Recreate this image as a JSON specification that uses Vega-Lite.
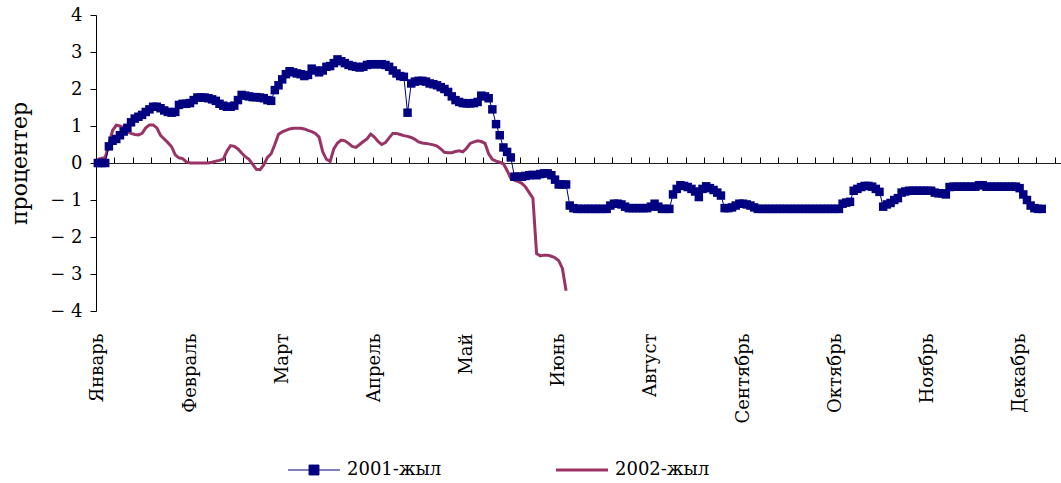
{
  "$schema": "https://vega.github.io/schema/vega-lite/v6.json",
  "width": 966,
  "height": 296,
  "autosize": {"type": "none"},
  "padding": {"left": 96, "top": 15, "right": 0, "bottom": 172},
  "background": "white",
  "config": {
    "view": {"stroke": null},
    "font": "DejaVu Serif",
    "axis": {"labelFont": "DejaVu Serif", "titleFont": "DejaVu Serif", "labelColor": "black", "titleColor": "black", "domainColor": "black", "tickColor": "black", "grid": false}
  },
  "datasets": {
    "y2001": [
      {"idx":0,"value":0},{"idx":1,"value":0},{"idx":2,"value":0},{"idx":3,"value":0.45},{"idx":4,"value":0.6},{"idx":5,"value":0.65},{"idx":6,"value":0.75},{"idx":7,"value":0.85},{"idx":8,"value":0.95},{"idx":9,"value":1.1},
      {"idx":10,"value":1.2},{"idx":11,"value":1.25},{"idx":12,"value":1.3},{"idx":13,"value":1.38},{"idx":14,"value":1.45},{"idx":15,"value":1.52},{"idx":16,"value":1.52},{"idx":17,"value":1.48},{"idx":18,"value":1.42},{"idx":19,"value":1.38},
      {"idx":20,"value":1.36},{"idx":21,"value":1.38},{"idx":22,"value":1.57},{"idx":23,"value":1.6},{"idx":24,"value":1.6},{"idx":25,"value":1.62},{"idx":26,"value":1.7},{"idx":27,"value":1.77},{"idx":28,"value":1.77},{"idx":29,"value":1.77},
      {"idx":30,"value":1.75},{"idx":31,"value":1.72},{"idx":32,"value":1.68},{"idx":33,"value":1.6},{"idx":34,"value":1.55},{"idx":35,"value":1.52},{"idx":36,"value":1.52},{"idx":37,"value":1.55},{"idx":38,"value":1.7},{"idx":39,"value":1.84},
      {"idx":40,"value":1.82},{"idx":41,"value":1.8},{"idx":42,"value":1.78},{"idx":43,"value":1.78},{"idx":44,"value":1.77},{"idx":45,"value":1.75},{"idx":46,"value":1.7},{"idx":47,"value":1.68},{"idx":48,"value":1.97},{"idx":49,"value":2.1},
      {"idx":50,"value":2.26},{"idx":51,"value":2.4},{"idx":52,"value":2.48},{"idx":53,"value":2.45},{"idx":54,"value":2.42},{"idx":55,"value":2.4},{"idx":56,"value":2.35},{"idx":57,"value":2.38},{"idx":58,"value":2.55},{"idx":59,"value":2.5},
      {"idx":60,"value":2.45},{"idx":61,"value":2.5},{"idx":62,"value":2.6},{"idx":63,"value":2.62},{"idx":64,"value":2.7},{"idx":65,"value":2.8},{"idx":66,"value":2.75},{"idx":67,"value":2.7},{"idx":68,"value":2.65},{"idx":69,"value":2.62},
      {"idx":70,"value":2.6},{"idx":71,"value":2.58},{"idx":72,"value":2.6},{"idx":73,"value":2.65},{"idx":74,"value":2.67},{"idx":75,"value":2.67},{"idx":76,"value":2.67},{"idx":77,"value":2.67},{"idx":78,"value":2.65},{"idx":79,"value":2.6},
      {"idx":80,"value":2.5},{"idx":81,"value":2.42},{"idx":82,"value":2.35},{"idx":83,"value":2.33},{"idx":84,"value":1.36},{"idx":85,"value":2.15},{"idx":86,"value":2.2},{"idx":87,"value":2.22},{"idx":88,"value":2.22},{"idx":89,"value":2.2},
      {"idx":90,"value":2.15},{"idx":91,"value":2.13},{"idx":92,"value":2.1},{"idx":93,"value":2.05},{"idx":94,"value":2.0},{"idx":95,"value":1.92},{"idx":96,"value":1.8},{"idx":97,"value":1.7},{"idx":98,"value":1.65},{"idx":99,"value":1.62},
      {"idx":100,"value":1.61},{"idx":101,"value":1.61},{"idx":102,"value":1.62},{"idx":103,"value":1.65},{"idx":104,"value":1.82},{"idx":105,"value":1.8},{"idx":106,"value":1.75},{"idx":107,"value":1.45},{"idx":108,"value":1.05},{"idx":109,"value":0.75},
      {"idx":110,"value":0.42},{"idx":111,"value":0.3},{"idx":112,"value":0.15},{"idx":113,"value":-0.37},{"idx":114,"value":-0.37},{"idx":115,"value":-0.37},{"idx":116,"value":-0.35},{"idx":117,"value":-0.33},{"idx":118,"value":-0.32},{"idx":119,"value":-0.33},
      {"idx":120,"value":-0.3},{"idx":121,"value":-0.28},{"idx":122,"value":-0.28},{"idx":123,"value":-0.33},{"idx":124,"value":-0.45},{"idx":125,"value":-0.58},{"idx":126,"value":-0.58},{"idx":127,"value":-0.58},{"idx":128,"value":-1.15},{"idx":129,"value":-1.22},
      {"idx":130,"value":-1.24},{"idx":131,"value":-1.24},{"idx":132,"value":-1.24},{"idx":133,"value":-1.24},{"idx":134,"value":-1.24},{"idx":135,"value":-1.24},{"idx":136,"value":-1.24},{"idx":137,"value":-1.24},{"idx":138,"value":-1.24},{"idx":139,"value":-1.15},
      {"idx":140,"value":-1.1},{"idx":141,"value":-1.1},{"idx":142,"value":-1.12},{"idx":143,"value":-1.18},{"idx":144,"value":-1.22},{"idx":145,"value":-1.22},{"idx":146,"value":-1.22},{"idx":147,"value":-1.22},{"idx":148,"value":-1.22},{"idx":149,"value":-1.22},
      {"idx":150,"value":-1.18},{"idx":151,"value":-1.1},{"idx":152,"value":-1.18},{"idx":153,"value":-1.24},{"idx":154,"value":-1.24},{"idx":155,"value":-1.24},{"idx":156,"value":-0.85},{"idx":157,"value":-0.7},{"idx":158,"value":-0.6},{"idx":159,"value":-0.62},
      {"idx":160,"value":-0.65},{"idx":161,"value":-0.7},{"idx":162,"value":-0.77},{"idx":163,"value":-0.92},{"idx":164,"value":-0.7},{"idx":165,"value":-0.63},{"idx":166,"value":-0.68},{"idx":167,"value":-0.73},{"idx":168,"value":-0.8},{"idx":169,"value":-0.88},
      {"idx":170,"value":-1.22},{"idx":171,"value":-1.22},{"idx":172,"value":-1.2},{"idx":173,"value":-1.15},{"idx":174,"value":-1.1},{"idx":175,"value":-1.1},{"idx":176,"value":-1.12},{"idx":177,"value":-1.15},{"idx":178,"value":-1.2},{"idx":179,"value":-1.24},
      {"idx":180,"value":-1.24},{"idx":181,"value":-1.24},{"idx":182,"value":-1.24},{"idx":183,"value":-1.24},{"idx":184,"value":-1.24},{"idx":185,"value":-1.24},{"idx":186,"value":-1.24},{"idx":187,"value":-1.24},{"idx":188,"value":-1.24},{"idx":189,"value":-1.24},
      {"idx":190,"value":-1.24},{"idx":191,"value":-1.24},{"idx":192,"value":-1.24},{"idx":193,"value":-1.24},{"idx":194,"value":-1.24},{"idx":195,"value":-1.24},{"idx":196,"value":-1.24},{"idx":197,"value":-1.24},{"idx":198,"value":-1.24},{"idx":199,"value":-1.24},
      {"idx":200,"value":-1.24},{"idx":201,"value":-1.24},{"idx":202,"value":-1.1},{"idx":203,"value":-1.07},{"idx":204,"value":-1.05},{"idx":205,"value":-0.75},{"idx":206,"value":-0.7},{"idx":207,"value":-0.65},{"idx":208,"value":-0.62},{"idx":209,"value":-0.62},
      {"idx":210,"value":-0.64},{"idx":211,"value":-0.7},{"idx":212,"value":-0.78},{"idx":213,"value":-1.18},{"idx":214,"value":-1.12},{"idx":215,"value":-1.08},{"idx":216,"value":-1.0},{"idx":217,"value":-0.95},{"idx":218,"value":-0.8},{"idx":219,"value":-0.77},
      {"idx":220,"value":-0.75},{"idx":221,"value":-0.75},{"idx":222,"value":-0.75},{"idx":223,"value":-0.75},{"idx":224,"value":-0.75},{"idx":225,"value":-0.75},{"idx":226,"value":-0.75},{"idx":227,"value":-0.8},{"idx":228,"value":-0.82},{"idx":229,"value":-0.82},
      {"idx":230,"value":-0.85},{"idx":231,"value":-0.65},{"idx":232,"value":-0.64},{"idx":233,"value":-0.64},{"idx":234,"value":-0.64},{"idx":235,"value":-0.64},{"idx":236,"value":-0.64},{"idx":237,"value":-0.64},{"idx":238,"value":-0.64},{"idx":239,"value":-0.6},
      {"idx":240,"value":-0.6},{"idx":241,"value":-0.64},{"idx":242,"value":-0.64},{"idx":243,"value":-0.64},{"idx":244,"value":-0.64},{"idx":245,"value":-0.64},{"idx":246,"value":-0.64},{"idx":247,"value":-0.64},{"idx":248,"value":-0.64},{"idx":249,"value":-0.64},
      {"idx":250,"value":-0.68},{"idx":251,"value":-0.85},{"idx":252,"value":-1.0},{"idx":253,"value":-1.15},{"idx":254,"value":-1.22},{"idx":255,"value":-1.24},{"idx":256,"value":-1.24}
    ],
    "y2002": [
      {"idx":0,"value":0.1},{"idx":1,"value":0.12},{"idx":2,"value":0.15},{"idx":3,"value":0.5},{"idx":4,"value":0.88},{"idx":5,"value":1.02},{"idx":6,"value":1.0},{"idx":7,"value":0.95},{"idx":8,"value":0.85},{"idx":9,"value":0.8},
      {"idx":10,"value":0.77},{"idx":11,"value":0.76},{"idx":12,"value":0.8},{"idx":13,"value":0.95},{"idx":14,"value":1.03},{"idx":15,"value":1.03},{"idx":16,"value":0.95},{"idx":17,"value":0.75},{"idx":18,"value":0.65},{"idx":19,"value":0.55},
      {"idx":20,"value":0.44},{"idx":21,"value":0.22},{"idx":22,"value":0.14},{"idx":23,"value":0.12},{"idx":24,"value":0.03},{"idx":25,"value":0.0},{"idx":26,"value":0.0},{"idx":27,"value":0.0},{"idx":28,"value":0.0},{"idx":29,"value":0.0},
      {"idx":30,"value":0.0},{"idx":31,"value":0.02},{"idx":32,"value":0.05},{"idx":33,"value":0.07},{"idx":34,"value":0.1},{"idx":35,"value":0.32},{"idx":36,"value":0.47},{"idx":37,"value":0.45},{"idx":38,"value":0.38},{"idx":39,"value":0.27},
      {"idx":40,"value":0.17},{"idx":41,"value":0.1},{"idx":42,"value":-0.04},{"idx":43,"value":-0.17},{"idx":44,"value":-0.18},{"idx":45,"value":-0.05},{"idx":46,"value":0.15},{"idx":47,"value":0.25},{"idx":48,"value":0.5},{"idx":49,"value":0.78},
      {"idx":50,"value":0.84},{"idx":51,"value":0.88},{"idx":52,"value":0.92},{"idx":53,"value":0.94},{"idx":54,"value":0.94},{"idx":55,"value":0.94},{"idx":56,"value":0.92},{"idx":57,"value":0.88},{"idx":58,"value":0.85},{"idx":59,"value":0.8},
      {"idx":60,"value":0.7},{"idx":61,"value":0.3},{"idx":62,"value":0.1},{"idx":63,"value":0.04},{"idx":64,"value":0.38},{"idx":65,"value":0.54},{"idx":66,"value":0.62},{"idx":67,"value":0.6},{"idx":68,"value":0.53},{"idx":69,"value":0.45},
      {"idx":70,"value":0.42},{"idx":71,"value":0.5},{"idx":72,"value":0.58},{"idx":73,"value":0.65},{"idx":74,"value":0.78},{"idx":75,"value":0.7},{"idx":76,"value":0.58},{"idx":77,"value":0.5},{"idx":78,"value":0.55},{"idx":79,"value":0.68},
      {"idx":80,"value":0.8},{"idx":81,"value":0.8},{"idx":82,"value":0.77},{"idx":83,"value":0.74},{"idx":84,"value":0.72},{"idx":85,"value":0.69},{"idx":86,"value":0.64},{"idx":87,"value":0.57},{"idx":88,"value":0.54},{"idx":89,"value":0.53},
      {"idx":90,"value":0.51},{"idx":91,"value":0.49},{"idx":92,"value":0.46},{"idx":93,"value":0.38},{"idx":94,"value":0.29},{"idx":95,"value":0.28},{"idx":96,"value":0.28},{"idx":97,"value":0.31},{"idx":98,"value":0.33},{"idx":99,"value":0.3},
      {"idx":100,"value":0.4},{"idx":101,"value":0.53},{"idx":102,"value":0.57},{"idx":103,"value":0.6},{"idx":104,"value":0.58},{"idx":105,"value":0.53},{"idx":106,"value":0.25},{"idx":107,"value":0.1},{"idx":108,"value":0.05},{"idx":109,"value":0.02},
      {"idx":110,"value":-0.02},{"idx":111,"value":-0.2},{"idx":112,"value":-0.42},{"idx":113,"value":-0.46},{"idx":114,"value":-0.5},{"idx":115,"value":-0.55},{"idx":116,"value":-0.65},{"idx":117,"value":-0.8},{"idx":118,"value":-0.95},{"idx":119,"value":-2.45},
      {"idx":120,"value":-2.51},{"idx":121,"value":-2.49},{"idx":122,"value":-2.49},{"idx":123,"value":-2.52},{"idx":124,"value":-2.56},{"idx":125,"value":-2.64},{"idx":126,"value":-2.85},{"idx":127,"value":-3.45}
    ]
  },
  "resolve": {"axis": {"x": "independent"}},
  "encoding": {
    "y": {
      "field": "value", "type": "quantitative",
      "scale": {"domain": [-4, 4], "nice": false, "zero": false},
      "axis": {
        "values": [-4, -3, -2, -1, 0, 1, 2, 3, 4],
        "labelExpr": "datum.value < 0 ? '− ' + abs(datum.value) : '' + datum.value",
        "labelFontSize": 18, "labelPadding": 8, "tickSize": 6,
        "title": "процентер", "titleFontSize": 22, "titleFontWeight": "normal", "titlePadding": 18
      }
    },
    "color": {
      "type": "nominal",
      "scale": {"domain": ["2001-жыл", "2002-жыл"], "range": ["#000080", "#993366"]},
      "legend": {
        "orient": "none", "legendX": 209, "legendY": 446, "direction": "horizontal", "title": null,
        "labelFontSize": 18, "labelFont": "DejaVu Serif", "labelColor": "black", "labelOffset": 24,
        "symbolSize": 2704, "columnPadding": 108,
        "encode": {
          "symbols": {
            "update": {
              "shape": {"signal": "datum.value === '2001-жыл' ? 'M-1,0H1M-0.19,-0.19H0.19V0.19H-0.19Z' : 'M-1,0H1'"},
              "strokeWidth": {"signal": "datum.value === '2001-жыл' ? 1 : 3"},
              "fill": {"signal": "datum.value === '2001-жыл' ? '#000080' : 'transparent'"},
              "stroke": {"signal": "datum.value === '2001-жыл' ? '#000080' : '#993366'"},
              "opacity": {"value": 1},
              "strokeDash": {"value": []}
            }
          }
        }
      }
    }
  },
  "layer": [
    {
      "data": {"name": "y2002"},
      "mark": {"type": "line", "strokeWidth": 3},
      "encoding": {
        "x": {
          "field": "idx", "type": "quantitative",
          "scale": {"domain": [-0.5, 261.5], "nice": false, "zero": false},
          "axis": {
            "title": null, "domain": false, "ticks": false,
            "values": [0, 25, 50, 75, 100, 125, 150, 175, 200, 225, 250],
            "labelExpr": "['Январь','Февраль','Март','Апрель','Май','Июнь','Август','Сентябрь','Октябрь','Ноябрь','Декабрь'][round(datum.value/25)]",
            "labelAngle": -90, "labelAlign": "right", "labelBaseline": "middle",
            "labelPadding": 22, "labelFontSize": 18, "labelOverlap": false, "labelBound": false, "labelFlush": false
          }
        },
        "color": {"datum": "2002-жыл"}
      }
    },
    {
      "data": {"name": "y2001"},
      "mark": {"type": "line", "strokeWidth": 1},
      "encoding": {
        "x": {
          "field": "idx", "type": "quantitative",
          "axis": {
            "title": null, "labels": false, "offset": -148,
            "values": [4.5,9.5,14.5,19.5,24.5,29.5,34.5,39.5,44.5,49.5,54.5,59.5,64.5,69.5,74.5,79.5,84.5,89.5,94.5,99.5,104.5,109.5,114.5,119.5,124.5,129.5,134.5,139.5,144.5,149.5,154.5,159.5,164.5,169.5,174.5,179.5,184.5,189.5,194.5,199.5,204.5,209.5,214.5,219.5,224.5,229.5,234.5,239.5,244.5,249.5,254.5,259.5],
            "tickSize": 6, "domainColor": "#222222"
          }
        },
        "color": {"datum": "2001-жыл"}
      }
    },
    {
      "data": {"name": "y2001"},
      "mark": {"type": "point", "shape": "square", "filled": true, "size": 72, "opacity": 1},
      "encoding": {
        "x": {"field": "idx", "type": "quantitative", "axis": null},
        "color": {"datum": "2001-жыл"}
      }
    }
  ]
}
